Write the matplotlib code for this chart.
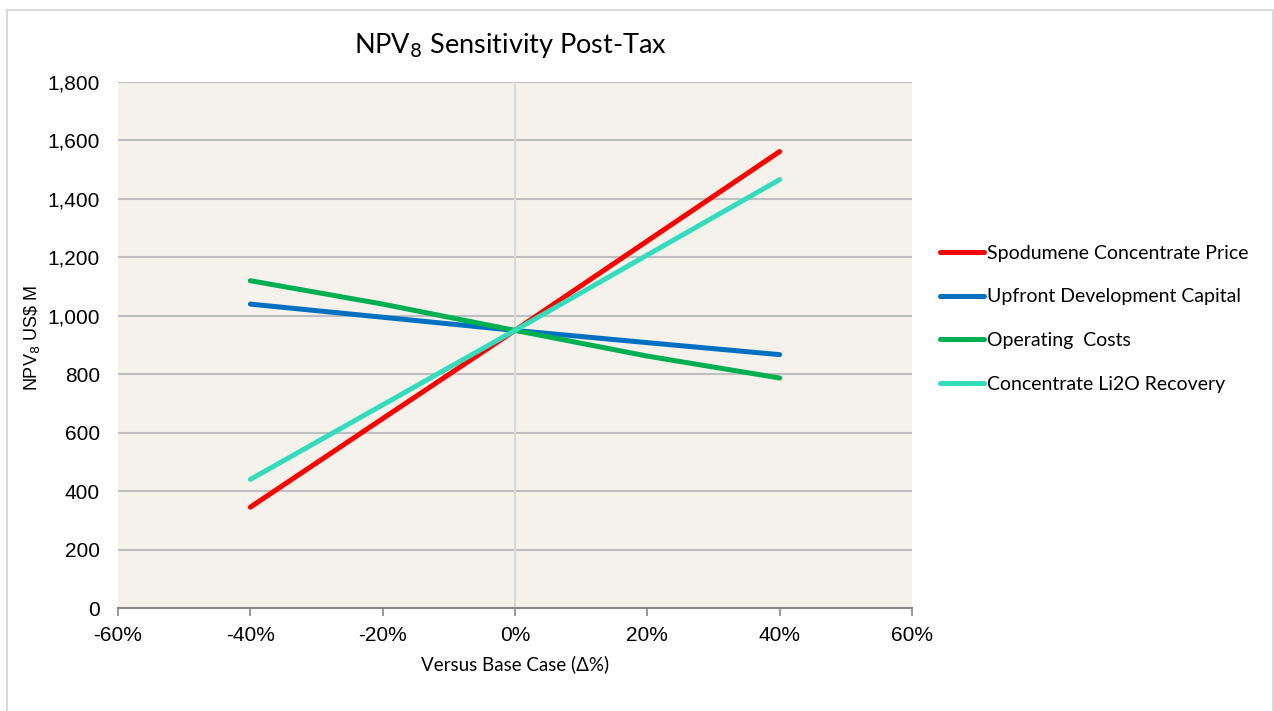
import matplotlib.pyplot as plt
from matplotlib.patches import Rectangle
from matplotlib.ticker import FuncFormatter, PercentFormatter

plt.rcParams["axes.unicode_minus"] = False

# sensitivity cases (% change vs base case)
changes = [-40, -20, 0, 20, 40]

price = [345, 648, 950, 1256, 1562]
capex = [1040, 995, 950, 908, 867]
opex = [1120, 1040, 950, 862, 787]
recovery = [440, 695, 950, 1208, 1466]

names = ["Spodumene Concentrate Price", "Upfront Development Capital",
         "Operating  Costs", "Concentrate Li2O Recovery"]
colours = ["#FF0000", "#0070C0", "#00B050", "#33DDBB"]

fig = plt.figure(figsize=(12.74, 7.11), dpi=100)
ax = fig.add_axes([118/1274, 103/711, 794/1274, 526/711])
ax.set_facecolor("#F4F2EB")

# outer frame of the chart area
fig.patches.append(Rectangle((7/1274, -0.05), 1266/1274, 1.05 - 10/711,
                             transform=fig.transFigure, fill=False,
                             edgecolor="#D9D9D9", linewidth=1.5))

for yy in range(200, 1801, 200):
    ax.axhline(yy, color="#BFBFBF", lw=1.5, zorder=1)
ax.axvline(0, color="#D9D9D9", lw=1.5, zorder=1)

for vals, name, c in zip([price, capex, opex, recovery], names, colours):
    ax.plot(changes, vals, color=c, lw=3.6, label=name, solid_capstyle="round", zorder=3)

ax.set_xlim(-60, 60)
ax.set_ylim(0, 1800)
ax.set_xticks(range(-60, 61, 20))
ax.set_yticks(range(0, 1801, 200))
ax.xaxis.set_major_formatter(PercentFormatter(decimals=0))
ax.yaxis.set_major_formatter(FuncFormatter(lambda v, p: f"{int(v):,}"))

for s in ["top", "right", "left"]:
    ax.spines[s].set_visible(False)
ax.spines["bottom"].set_color("#888888")
ax.spines["bottom"].set_linewidth(1.5)
ax.tick_params(axis="x", length=6, width=1.2, color="#888888", pad=7,
               labelsize=15, labelfontfamily="Liberation Sans")
ax.tick_params(axis="y", length=0, pad=13, labelsize=15, labelfontfamily="Liberation Sans")

fig.text(511/1274, 1 - 45/711, "NPV$_8$ Sensitivity Post-Tax", ha="center", va="center",
         fontsize=19.5, family="Lato")
ax.set_xlabel("Versus Base Case (Δ%)", fontsize=13.5, family="Lato", labelpad=7)
fig.text(32/1274, 1 - 338/711, "NPV$_8$ US\\$ M", rotation=90, ha="center", va="center",
         fontsize=13, family="Liberation Sans")

fig.legend(loc="upper left", bbox_to_anchor=(922/1274, 1 - 227/711), frameon=False,
           handlelength=2.3, handletextpad=0.15, labelspacing=1.38,
           prop={"family": "Lato", "size": 14})

fig.savefig("out.png", dpi=100)
